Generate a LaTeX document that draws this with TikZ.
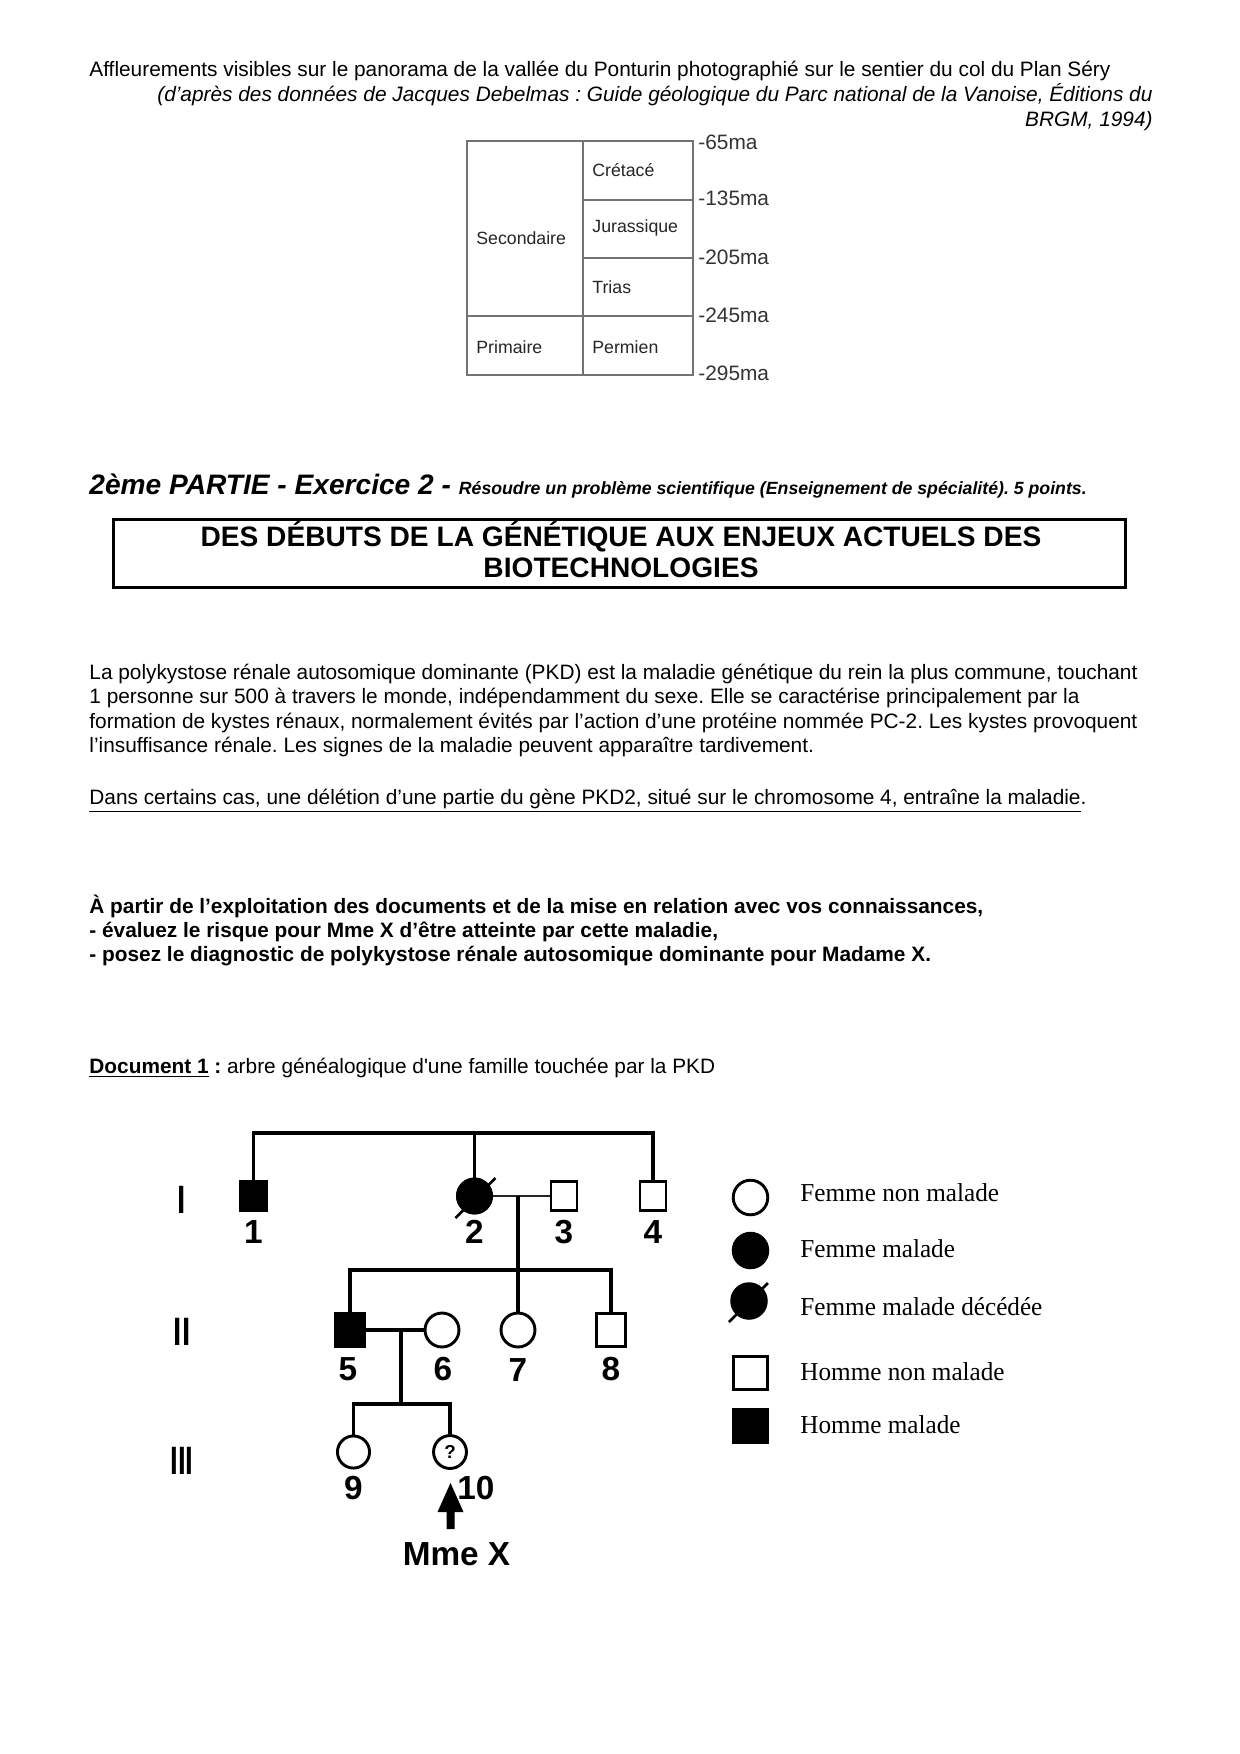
\documentclass[tikz,border=0pt]{standalone}
\usepackage{fontspec}
\setmainfont{Liberation Sans}
\newfontfamily\legfont[FakeStretch=0.975]{Liberation Serif}
\usetikzlibrary{calc}
\frenchspacing
\begin{document}
\begin{tikzpicture}[x=0.48pt,y=-0.48pt,
  txt/.style={anchor=base west,inner sep=0pt,font=\fontsize{10}{12}\selectfont\frenchspacing},
  tcell/.style={anchor=west,inner sep=0pt,font=\fontsize{8.5}{10}\selectfont,text=black!85},
  tma/.style={anchor=west,inner sep=0pt,font=\fontsize{10}{12}\selectfont,text=black!80},
  tline/.style={draw=black!55,line width=0.6pt},
  pline/.style={line width=1.9pt},
  male/.style={draw,line width=1.4pt,inner sep=0pt,minimum width=12.5pt,minimum height=14pt,fill=white},
  maleb/.style={male,minimum width=14pt,minimum height=15.5pt},
  female/.style={circle,draw,line width=1.4pt,inner sep=0pt,minimum size=16.3pt,fill=white},
  sick/.style={fill=black},
  plab/.style={inner sep=0pt,font=\fontsize{16}{18}\selectfont\bfseries},
  gen/.style={inner sep=0pt,font=\fontsize{19}{21}\selectfont\bfseries},
  leg/.style={anchor=west,inner sep=0pt,font=\legfont\fontsize{12.4}{14}\selectfont}
]
\useasboundingbox (0,0) rectangle (1240,1754);
\fill[white] (0,0) rectangle (1240,1754);

% header
\node[txt] (h1) at (89,76) {Affleurements visibles sur le panorama de la vallée du Ponturin photographié sur le sentier du col du Plan Séry};
\node[txt,anchor=base east] (h2) at (1153,101) {\itshape (d’après des données de Jacques Debelmas : Guide géologique du Parc national de la Vanoise, Éditions du};
\node[txt,anchor=base east] (h3) at (1153,126) {\itshape BRGM, 1994)};

% table
\draw[tline] (467,141) rectangle (693,375);
\draw[tline] (583,141) -- (583,375);
\draw[tline] (583,200) -- (693,200);
\draw[tline] (583,258) -- (693,258);
\draw[tline] (467,316) -- (693,316);
\node[tcell] (c1) at (592,170) {Crétacé};
\node[tcell] (c2) at (592,228) {Jurassique};
\node[tcell] (c3) at (592,287) {Trias};
\node[tcell] (c4) at (592,347) {Permien};
\node[tcell] (c5) at (476,238) {Secondaire};
\node[tcell] (c6) at (476,347) {Primaire};
\node[tma] (m1) at (698,142) {-65ma};
\node[tma] (m2) at (698,198) {-135ma};
\node[tma] (m3) at (698,257) {-205ma};
\node[tma] (m4) at (698,315) {-245ma};
\node[tma] (m5) at (698,373) {-295ma};

% exercise heading
\node[txt] (ex) at (89,494) {\bfseries\itshape\fontsize{13.5}{16}\selectfont 2ème PARTIE - Exercice 2 - {\fontsize{8.5}{10}\selectfont Résoudre un problème scientifique (Enseignement de spécialité). 5 points.}};

% title box
\node[draw,line width=1.5pt,minimum width=486pt,minimum height=33pt,inner sep=0pt] (tbox) at (619.5,553.5) {};
\node[inner sep=0pt,anchor=base,font=\fontsize{13.5}{16}\selectfont\bfseries] (t1) at (621,546) {DES DÉBUTS DE LA GÉNÉTIQUE AUX ENJEUX ACTUELS DES};
\node[inner sep=0pt,anchor=base,font=\fontsize{13.5}{16}\selectfont\bfseries] (t2) at (621,577) {BIOTECHNOLOGIES};

% paragraph
\node[txt] (p1l) at (89,679) {La polykystose rénale autosomique dominante (PKD) est la maladie génétique du rein la plus commune, touchant};
\node[txt] (p2l) at (89,703.5) {1 personne sur 500 à travers le monde, indépendamment du sexe. Elle se caractérise principalement par la};
\node[txt] (p3l) at (89,728) {formation de kystes rénaux, normalement évités par l’action d’une protéine nommée PC-2. Les kystes provoquent};
\node[txt] (p4l) at (89,752) {l’insuffisance rénale. Les signes de la maladie peuvent apparaître tardivement.};
\node[txt] (u1) at (89,804) {\underline{Dans certains cas, une délétion d’une partie du gène PKD2, situé sur le chromosome 4, entraîne la maladie}.};

\node[txt] (b1) at (89,913) {\bfseries À partir de l’exploitation des documents et de la mise en relation avec vos connaissances,};
\node[txt] (b2) at (89,937) {\bfseries - évaluez le risque pour Mme X d’être atteinte par cette maladie,};
\node[txt] (b3) at (89,961) {\bfseries - posez le diagnostic de polykystose rénale autosomique dominante pour Madame X.};

\node[txt] (doc) at (89,1073) {\bfseries\underline{Document 1} :\mdseries\ arbre généalogique d{\addfontfeature{Ligatures=TeXOff}'}une famille touchée par la PKD};

% pedigree
\coordinate (topy) at (0,1133);
\coordinate (sib2) at (0,1270);
\coordinate (sib3) at (0,1404);
\coordinate (m56) at (401,0);

\node[male,sick] (i1) at (253.5,1196) {};
\node[female,sick] (i2) at (474.5,1196) {};
\node[male] (i3) at (564,1196) {};
\node[male] (i4) at (653,1196) {};
\node[maleb,sick] (i5) at (350,1330) {};
\node[female] (i6) at (442,1330) {};
\node[female] (i7) at (518,1330) {};
\node[maleb] (i8) at (611,1330) {};
\node[female,minimum size=15.4pt] (i9) at (353.5,1452) {};
\node[female,minimum size=15.8pt] (i10) at (450,1452) {\bfseries\fontsize{9}{10}\selectfont ?};

\draw[pline] (i1.north) -- (i1.north |- topy) -- (i4.north |- topy) -- (i4.north);
\draw[line width=1pt] (i2.north) -- (i2.north |- topy);
\draw[line width=1.4pt,black!85] (i2.east) -- (i3.west);
\draw[pline] (i7.north) -- (i7.north |- i3.west);
\draw[pline] (i5.north) -- (i5.north |- sib2) -- (i8.north |- sib2) -- (i8.north);
\draw[pline] (i5.east) -- (i6.west);
\draw[pline] (m56 |- i5.east) -- (m56 |- sib3);
\draw[pline] (i9.north) -- (i9.north |- sib3) -- (i10.north |- sib3) -- (i10.north);
\draw[line width=1.3pt] ($(i2.center)+(-19,22)$) -- ($(i2.center)+(21,-18)$);
\node[female,sick] (i2b) at (i2) {};

\node[plab] (l1) at (253.5,1232) {1};
\node[plab] (l2) at (474.5,1232) {2};
\node[plab] (l3) at (564,1232) {3};
\node[plab] (l4) at (653,1232) {4};
\node[plab] (l5) at (348,1369) {5};
\node[plab] (l6) at (443,1369) {6};
\node[plab] (l7) at (518,1370) {7};
\node[plab] (l8) at (611,1369) {8};
\node[plab] (l9) at (353.5,1488) {9};
\node[plab] (l10) at (476,1488) {10};

\node[gen] (g1) at (182,1200) {\scalebox{0.75}[1]{I}};
\node[gen] (g2) at (182,1332) {\scalebox{0.75}[1]{II}};
\node[gen] (g3) at (182,1461) {\scalebox{0.7}[1]{III}};

\coordinate (arrb) at (450.5,1529);
\fill ($(arrb)+(-4,0)$) -- ($(arrb)+(-4,-17)$) -- ($(arrb)+(-13,-17)$) -- ($(arrb)+(0,-46)$) -- ($(arrb)+(13,-17)$) -- ($(arrb)+(4,-17)$) -- ($(arrb)+(4,0)$) -- cycle;
\node[plab,font=\fontsize{16}{18}\selectfont\bfseries] (mx) at (456.5,1554) {Mme X};

% legend
\node[female,minimum size=16.6pt] (L1) at (750.5,1197.5) {};
\node[female,sick,minimum size=16.6pt] (L2) at (750.5,1250.5) {};
\draw[line width=1.3pt] ($(749,1301)+(-20,21)$) -- ($(749,1301)+(19,-18)$);
\node[female,sick,minimum size=16.6pt] (L3) at (749,1301) {};
\node[male,minimum width=16.6pt,minimum height=15.6pt] (L4) at (750.5,1373) {};
\node[male,sick,minimum width=16.6pt,minimum height=15.6pt] (L5) at (750.5,1426) {};
\node[leg] (LT1) at (800,1193) {Femme non malade};
\node[leg] (LT2) at (800,1249) {Femme malade};
\node[leg] (LT3) at (800,1307) {Femme malade décédée};
\node[leg] (LT4) at (800,1372) {Homme non malade};
\node[leg] (LT5) at (800,1425) {Homme malade};
\end{tikzpicture}
\end{document}
